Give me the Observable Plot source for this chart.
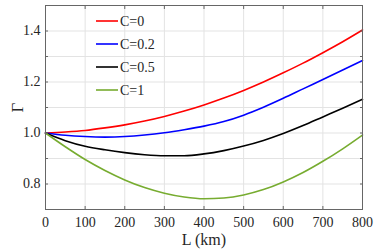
<!DOCTYPE html>
<html>
<head>
<meta charset="utf-8">
<script src="https://cdn.jsdelivr.net/npm/d3@7"></script>
<script src="https://cdn.jsdelivr.net/npm/@observablehq/plot@0.6"></script>
<style>
  html, body { margin: 0; padding: 0; background: #fff; }
  #chart { position: relative; width: 374px; height: 251px; }
</style>
</head>
<body>
<div id="chart"></div>
<script>
const L = [0, 50, 100, 150, 200, 250, 300, 350, 400, 450, 500, 550, 600, 650, 700, 750, 800];
const seriesNames = ["C=0", "C=0.2", "C=0.5", "C=1"];
const seriesColors = ["#ff0000", "#0000ff", "#000000", "#77ac30"];
const gammaC0   = [1.000, 1.004, 1.010, 1.020, 1.032, 1.047, 1.065, 1.086, 1.110, 1.137, 1.167, 1.200, 1.236, 1.274, 1.315, 1.358, 1.404];
const gammaC02  = [1.000, 0.991, 0.986, 0.984, 0.986, 0.992, 1.001, 1.013, 1.027, 1.045, 1.070, 1.101, 1.136, 1.173, 1.210, 1.247, 1.284];
const gammaC05  = [1.000, 0.970, 0.948, 0.934, 0.923, 0.915, 0.911, 0.911, 0.918, 0.931, 0.949, 0.971, 0.998, 1.029, 1.063, 1.097, 1.132];
const gammaC1   = [1.000, 0.946, 0.896, 0.853, 0.816, 0.786, 0.764, 0.749, 0.742, 0.745, 0.757, 0.778, 0.808, 0.845, 0.889, 0.938, 0.992];
const xTicks = [0, 100, 200, 300, 400, 500, 600, 700, 800];
const yTicks = [0.8, 1, 1.2, 1.4];
const yMinor = [0.7, 0.8, 0.9, 1.0, 1.1, 1.2, 1.3, 1.4, 1.5];

const allSeries = [gammaC0, gammaC02, gammaC05, gammaC1];
const data = [];
allSeries.forEach((vals, i) => vals.forEach((v, j) => data.push({L: L[j], g: v, s: seriesNames[i]})));

const font = "'Liberation Serif', serif";
const axisColor = "#666";
const textColor = "#262626";

const plot = Plot.plot({
  width: 374,
  height: 251,
  marginLeft: 45,
  marginRight: 12,
  marginTop: 5,
  marginBottom: 42,
  style: {fontSize: "14px", background: "#fff"},
  x: {domain: [0, 800]},
  y: {domain: [0.7, 1.5]},
  color: {domain: seriesNames, range: seriesColors},
  marks: [
    Plot.gridX(xTicks, {stroke: "#e3e3e3", strokeOpacity: 1}),
    Plot.gridY(yMinor, {stroke: "#e3e3e3", strokeOpacity: 1}),
    Plot.line(data, {x: "L", y: "g", z: "s", stroke: "s", strokeWidth: 1.6, curve: "monotone-x"}),
    Plot.axisX(xTicks, {anchor: "bottom", tickSize: 0, tickPadding: 8, label: "L (km)", labelAnchor: "center", labelArrow: "none", labelOffset: 35, fill: textColor}),
    Plot.axisX(xTicks, {anchor: "bottom", tickSize: -3, tickFormat: () => "", label: null, stroke: axisColor}),
    Plot.axisX(xTicks, {anchor: "top", tickSize: -3, tickFormat: () => "", label: null, stroke: axisColor}),
    Plot.axisY(yTicks, {anchor: "left", tickSize: 0, tickPadding: 5, label: "Γ", labelAnchor: "center", labelArrow: "none", labelOffset: 35, fill: textColor}),
    Plot.axisY(yMinor, {anchor: "left", tickSize: -3, tickFormat: () => "", label: null, stroke: axisColor}),
    Plot.axisY(yMinor, {anchor: "right", tickSize: -3, tickFormat: () => "", label: null, stroke: axisColor}),
    Plot.frame({stroke: axisColor})
  ]
});

document.getElementById("chart").appendChild(plot);

// Legend inside the plot area (top-left)
const svg = d3.select(plot);
const leg = svg.append("g").attr("font-size", 14).attr("text-anchor", "start");
seriesNames.forEach((name, i) => {
  const y = 21 + i * 23;
  leg.append("line").attr("x1", 96).attr("x2", 118).attr("y1", y).attr("y2", y)
    .attr("stroke", seriesColors[i]).attr("stroke-width", 1.6);
  leg.append("text").attr("x", 120).attr("y", y).attr("dy", "0.35em").attr("fill", textColor).text(name);
});

// serif face on every text element; larger axis titles
svg.attr("font-family", font).style("font-family", font);
svg.selectAll("g").attr("font-family", null);
svg.selectAll("text").attr("font-family", "Liberation Serif").style("font-family", font);
svg.selectAll('g[aria-label="x-axis label"] text').style("font-size", "16px");
svg.selectAll('g[aria-label="y-axis label"] text').style("font-size", "17px");
</script>
</body>
</html>
